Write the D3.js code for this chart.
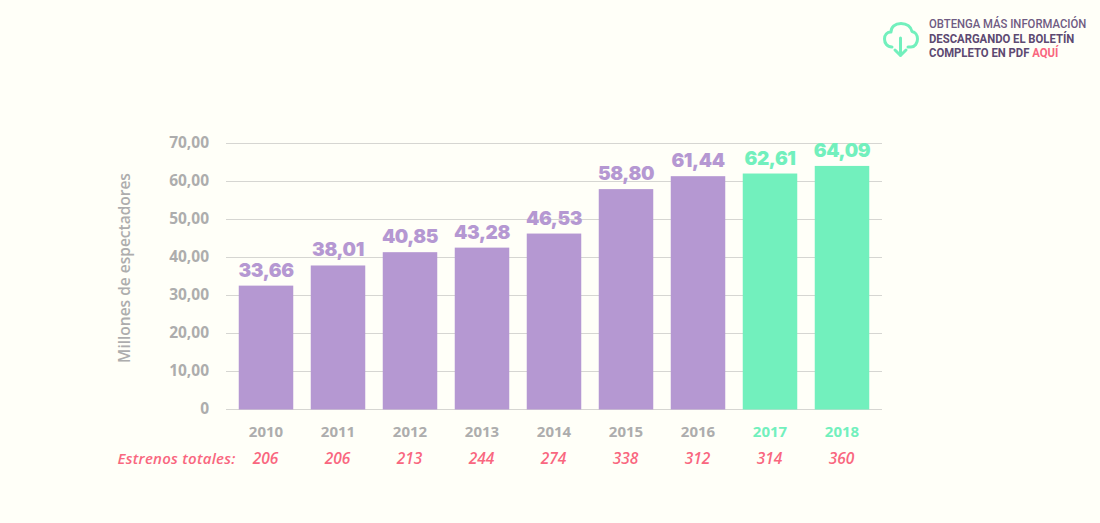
<!DOCTYPE html>
<html>
<head>
<meta charset="utf-8">
<script src="https://cdn.jsdelivr.net/npm/d3@7"></script>
<style>
html, body { margin: 0; padding: 0; background: #fffff8; }
svg { display: block; }
</style>
</head>
<body>
<div id="chart-area"></div>
<script>
const years = ["2010","2011","2012","2013","2014","2015","2016","2017","2018"]
// bar heights as drawn in the picture, they differ a bit from the printed labels
const barValues = [32.6, 37.9, 41.4, 42.6, 46.3, 58.0, 61.4, 62.1, 64.1]
const valueLabels = ["33,66","38,01","40,85","43,28","46,53","58,80","61,44","62,61","64,09"]
const estrenos = ["206","206","213","244","274","338","312","314","360"]
const greenYears = ["2017","2018"]
const yTicks = [0,10,20,30,40,50,60,70]
const yTickLabels = ["0","10,00","20,00","30,00","40,00","50,00","60,00","70,00"]
const noteLines = [
    [{t:"OBTENGA MÁS INFORMACIÓN", c:"#6f5b83", w:500}],
    [{t:"DESCARGANDO EL BOLETÍN", c:"#5d4a72", w:700}],
    [{t:"COMPLETO EN PDF ", c:"#5d4a72", w:700}, {t:"AQUÍ", c:"#f9677f", w:700}]
]

const PURPLE = "#b598d2", GREEN = "#72f0bd", GREY = "#adadad", PINK = "#f9677f"
const colorOf = y => greenYears.includes(y) ? GREEN : PURPLE

const svg = d3.select("#chart-area").append("svg")
    .attr("width",1100)
    .attr("height",523)

const x = d3.scaleBand()
    .domain(years)
    .range([230, 878])
    .paddingInner(0.243)
    .paddingOuter(0.1215)

const y = d3.scaleLinear()
    .domain([0, 70])
    .range([409.5, 143.5])

//gridlines + y labels
const yAxis = d3.axisLeft(y)
    .offset(0)
    .tickValues(yTicks)
    .tickSize(-656)
    .tickPadding(17)
    .tickFormat((d,i) => yTickLabels[i])

const yG = svg.append("g")
    .attr("transform","translate(226,0)")
    .call(yAxis)
yG.select(".domain").remove()
yG.selectAll("line").attr("stroke","#d6d6d2").attr("stroke-width",1)
yG.selectAll("text")
    .attr("fill",GREY)
    .attr("font-family","'Open Sans', sans-serif")
    .attr("font-weight",700)
    .attr("font-size",15.5)

svg.append("text")
    .attr("transform","translate(129.5,268) rotate(-90)")
    .attr("text-anchor","middle")
    .attr("fill",GREY)
    .attr("font-family","'Open Sans', sans-serif")
    .attr("font-weight",600)
    .attr("font-size",15.5)
    .text("Millones de espectadores")

//bars
svg.selectAll("rect.bar")
    .data(years)
    .enter().append("rect")
    .attr("class","bar")
    .attr("x", d => x(d))
    .attr("y", (d,i) => y(barValues[i]))
    .attr("width", x.bandwidth())
    .attr("height", (d,i) => y(0) - y(barValues[i]))
    .attr("fill", colorOf)

//value labels
svg.selectAll("text.val")
    .data(years)
    .enter().append("text")
    .attr("class","val")
    .attr("x", d => x(d) + x.bandwidth()/2)
    .attr("y", (d,i) => y(barValues[i]) - 9)
    .attr("text-anchor","middle")
    .attr("fill", colorOf)
    .attr("font-family","Inter, sans-serif")
    .attr("font-weight",900)
    .attr("font-size",19)
    .attr("letter-spacing",-0.4)
    .text((d,i) => valueLabels[i])

//years
svg.selectAll("text.year")
    .data(years)
    .enter().append("text")
    .attr("class","year")
    .attr("x", d => x(d) + x.bandwidth()/2)
    .attr("y", 437)
    .attr("text-anchor","middle")
    .attr("fill", d => greenYears.includes(d) ? GREEN : GREY)
    .attr("font-family","'Open Sans', sans-serif")
    .attr("font-weight",700)
    .attr("font-size",15)
    .text(d => d)

//estrenos row
svg.selectAll("text.est")
    .data(years)
    .enter().append("text")
    .attr("class","est")
    .attr("x", d => x(d) + x.bandwidth()/2 - 0.5)
    .attr("y", 464)
    .attr("text-anchor","middle")
    .attr("fill",PINK)
    .attr("font-family","'Open Sans', sans-serif")
    .attr("font-style","italic")
    .attr("font-weight",600)
    .attr("font-size",15.5)
    .text((d,i) => estrenos[i])

svg.append("text")
    .attr("x",235.5)
    .attr("y",464)
    .attr("text-anchor","end")
    .attr("fill",PINK)
    .attr("font-family","'Open Sans', sans-serif")
    .attr("font-style","italic")
    .attr("font-weight",600)
    .attr("font-size",15)
    .attr("letter-spacing",0.25)
    .text("Estrenos totales:")

//top right note, squeezed since Roboto is wider than the original face
const note = svg.append("g")
    .attr("transform","translate(929,0) scale(0.905,1)")
    .attr("font-family","Roboto, sans-serif")
    .attr("font-size",12.5)
noteLines.forEach((line,i) => {
    const t = note.append("text").attr("x",0).attr("y",28.5 + i*14.5)
    line.forEach(s => t.append("tspan").attr("fill",s.c).attr("font-weight",s.w).text(s.t))
})

//cloud icon
const icon = svg.append("g")
    .attr("fill","none")
    .attr("stroke",GREEN)
    .attr("stroke-width",3)
    .attr("stroke-linecap","round")
    .attr("stroke-linejoin","round")
icon.append("path")
    .attr("d","M892 47 L892 47 C887 47 884.5 43 884.5 39 C884.5 35 887 32 891 32 C891 27 895 23.5 901 23.5 C907 23.5 911 27 912 31.5 C915 32 917.5 35 917.5 39 C917.5 43 915 47 911 47 L908 47")
icon.append("path").attr("d","M900.5 38 L900.5 55.5 M895 50 L900.5 55.5 L906 50")
</script>
</body>
</html>
